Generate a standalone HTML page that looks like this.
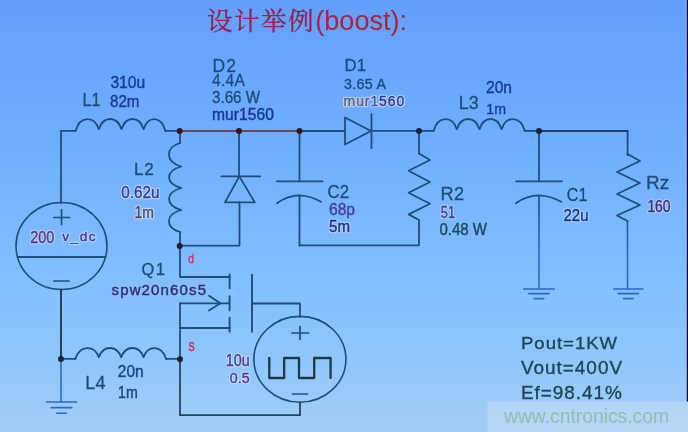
<!DOCTYPE html>
<html><head><meta charset="utf-8"><title>boost</title>
<style>
html,body{margin:0;padding:0;background:#64a0fc;}
body{width:688px;height:432px;overflow:hidden;font-family:"Liberation Sans",sans-serif;}
svg{display:block;}
</style></head><body>
<svg width="688" height="432" viewBox="0 0 688 432" font-family="'Liberation Sans', sans-serif">
<defs>
<linearGradient id="bg" x1="0" y1="0" x2="0" y2="1">
<stop offset="0" stop-color="rgb(99,159,253)"/>
<stop offset="0.14" stop-color="rgb(102,166,255)"/>
<stop offset="0.35" stop-color="rgb(112,175,255)"/>
<stop offset="0.56" stop-color="rgb(125,186,254)"/>
<stop offset="0.69" stop-color="rgb(133,193,255)"/>
<stop offset="0.83" stop-color="rgb(143,198,252)"/>
<stop offset="0.95" stop-color="rgb(158,203,247)"/>
<stop offset="1" stop-color="rgb(160,204,247)"/>
</linearGradient>
<linearGradient id="gv" gradientUnits="userSpaceOnUse" x1="0" y1="205" x2="0" y2="255">
<stop offset="0" stop-color="#1c4f7a"/>
<stop offset="1" stop-color="#2c68c6"/>
</linearGradient>
<filter id="soft" x="0" y="0" width="688" height="432" filterUnits="userSpaceOnUse"><feGaussianBlur stdDeviation="0.45"/></filter>
</defs>
<rect width="688" height="432" fill="url(#bg)"/>
<g filter="url(#soft)">
<path d="M61 203V130.8H75.6" stroke="#1c4f7a" stroke-width="1.8" fill="none" stroke-linecap="round" stroke-linejoin="round" />
<path d="M75.6 130.8 C80.1 115.6 94.3 115.6 98.8 129.2 C103.3 115.6 117.0 115.6 121.5 129.2 C126.0 115.6 139.1 115.6 143.6 129.2 C148.1 115.6 160.9 115.6 165.4 130.8" stroke="#1c4f7a" stroke-width="1.8" fill="none" stroke-linecap="round" stroke-linejoin="round" />
<path d="M165.4 130.8H180" stroke="#1c4f7a" stroke-width="1.8" fill="none" stroke-linecap="round" stroke-linejoin="round" />
<path d="M180 131H299.5" stroke="#662832" stroke-width="1.6" fill="none" stroke-linecap="round" stroke-linejoin="round" />
<path d="M299.5 131H345" stroke="#1c4f7a" stroke-width="1.8" fill="none" stroke-linecap="round" stroke-linejoin="round" />
<path d="M345 117.5V144.5L371 131Z" stroke="#1c4f7a" stroke-width="1.8" fill="none" stroke-linecap="round" stroke-linejoin="round" />
<path d="M371.5 114V148" stroke="#1c4f7a" stroke-width="1.8" fill="none" stroke-linecap="round" stroke-linejoin="round" />
<path d="M371.5 130.8H433.6" stroke="#1c4f7a" stroke-width="1.8" fill="none" stroke-linecap="round" stroke-linejoin="round" />
<path d="M433.6 130.8 C438.1 115.6 452.3 115.6 456.8 129.2 C461.3 115.6 475.0 115.6 479.5 129.2 C484.0 115.6 497.1 115.6 501.6 129.2 C506.1 115.6 520.3 115.6 524.8 130.8" stroke="#1c4f7a" stroke-width="1.8" fill="none" stroke-linecap="round" stroke-linejoin="round" />
<path d="M524.8 130.8H539" stroke="#1c4f7a" stroke-width="1.8" fill="none" stroke-linecap="round" stroke-linejoin="round" />
<path d="M539 131H627.6" stroke="#2c3a5e" stroke-width="1.9" fill="none" stroke-linecap="round" stroke-linejoin="round" />
<path d="M627.6 131V155" stroke="#1c4f7a" stroke-width="1.8" fill="none" stroke-linecap="round" stroke-linejoin="round" />
<path d="M627.5 154L640 161L617 172L640 183L617 194L640 205L617 215.5L627.5 221" stroke="#1c4f7a" stroke-width="1.8" fill="none" stroke-linecap="round" stroke-linejoin="round" />
<path d="M627.5 221V289" stroke="url(#gv)" stroke-width="1.6" fill="none"/>
<path d="M613.6999999999999 289H642.9M618.0999999999999 293.6H638.5M623.5 298.6H633.0999999999999" stroke="#2c68c6" stroke-width="1.6" fill="none" stroke-linecap="round" stroke-linejoin="round" />
<path d="M539 131V181" stroke="#1c4f7a" stroke-width="1.8" fill="none" stroke-linecap="round" stroke-linejoin="round" />
<path d="M516 181.3H562" stroke="#1c4f7a" stroke-width="1.8" fill="none" stroke-linecap="round" stroke-linejoin="round" />
<path d="M516 203.2Q527 195.4 539 195.4Q551 196 561.2 201.8" stroke="#1c4f7a" stroke-width="1.8" fill="none" stroke-linecap="round" stroke-linejoin="round" />
<path d="M539 195.5V289" stroke="url(#gv)" stroke-width="1.6" fill="none"/>
<path d="M523.7 289H554.3M528.8 293.6H549.2M534.2 298.6H543.8" stroke="#2c68c6" stroke-width="1.6" fill="none" stroke-linecap="round" stroke-linejoin="round" />
<path d="M419 131V153.5L430 160L408.6 170.8L430 182L408.6 192.8L430 203.8L408.6 214.4L419 220V245.4H299.5" stroke="#1c4f7a" stroke-width="1.8" fill="none" stroke-linecap="round" stroke-linejoin="round" />
<path d="M299.5 131V181" stroke="#1c4f7a" stroke-width="1.8" fill="none" stroke-linecap="round" stroke-linejoin="round" />
<path d="M277 181.3H322.5" stroke="#1c4f7a" stroke-width="1.8" fill="none" stroke-linecap="round" stroke-linejoin="round" />
<path d="M277 203.2Q288 195.4 299.5 195.4Q311 196 321 201.8" stroke="#1c4f7a" stroke-width="1.8" fill="none" stroke-linecap="round" stroke-linejoin="round" />
<path d="M299.5 195.5V245.5" stroke="#1c4f7a" stroke-width="1.8" fill="none" stroke-linecap="round" stroke-linejoin="round" />
<path d="M239 131V176.4" stroke="#1c4f7a" stroke-width="1.8" fill="none" stroke-linecap="round" stroke-linejoin="round" />
<path d="M221.4 176.4H260.2" stroke="#1c4f7a" stroke-width="1.8" fill="none" stroke-linecap="round" stroke-linejoin="round" />
<path d="M239.3 176.4L225 202.4H254.8Z" stroke="#1c4f7a" stroke-width="1.8" fill="none" stroke-linecap="round" stroke-linejoin="round" />
<path d="M239.5 202.4V245.6H180" stroke="#1c4f7a" stroke-width="1.8" fill="none" stroke-linecap="round" stroke-linejoin="round" />
<path d="M180 131V143" stroke="#1c4f7a" stroke-width="1.8" fill="none" stroke-linecap="round" stroke-linejoin="round" />
<path d="M180.0 143.0 C165.0 147.5 165.0 162.0 181.3 166.5 C165.0 171.0 165.0 183.5 181.3 188.0 C165.0 192.5 165.0 205.5 181.3 210.0 C165.0 214.5 165.0 227.5 180.0 232.0" stroke="#1c4f7a" stroke-width="1.8" fill="none" stroke-linecap="round" stroke-linejoin="round" />
<path d="M180 232V246" stroke="#1c4f7a" stroke-width="1.8" fill="none" stroke-linecap="round" stroke-linejoin="round" />
<path d="M180 246V277H229.6" stroke="#1c4f7a" stroke-width="1.8" fill="none" stroke-linecap="round" stroke-linejoin="round" />
<path d="M229.6 274.5V288.2M229.6 296.2V310.4M229.6 317.8V331.8" stroke="#1c4f7a" stroke-width="1.9" fill="none" stroke-linecap="round" stroke-linejoin="round" />
<path d="M252 274.6V331.8" stroke="#1c4f7a" stroke-width="1.9" fill="none" stroke-linecap="round" stroke-linejoin="round" />
<path d="M252 303.5H300V317" stroke="#1c4f7a" stroke-width="1.8" fill="none" stroke-linecap="round" stroke-linejoin="round" />
<path d="M180 303.3H229.6" stroke="#1c4f7a" stroke-width="1.8" fill="none" stroke-linecap="round" stroke-linejoin="round" />
<path d="M209 295.8L220.3 303.3L209 310.6" stroke="#1c4f7a" stroke-width="1.8" fill="none" stroke-linecap="round" stroke-linejoin="round" />
<path d="M180 328H229.6" stroke="#1c4f7a" stroke-width="1.8" fill="none" stroke-linecap="round" stroke-linejoin="round" />
<path d="M180 303.5V359.5" stroke="#1c4f7a" stroke-width="1.8" fill="none" stroke-linecap="round" stroke-linejoin="round" />
<path d="M180 359.5V415.2H300V402.5" stroke="#22465a" stroke-width="1.8" fill="none" stroke-linecap="round" stroke-linejoin="round" />
<ellipse cx="299.9" cy="359.3" rx="46" ry="42.9" fill="none" stroke="#1c4f7a" stroke-width="1.6"/>
<path d="M292 333H308.5M300 326.5V339.5" stroke="#1c4f7a" stroke-width="1.7" fill="none" stroke-linecap="round" stroke-linejoin="round" />
<path d="M292.5 394H307.5" stroke="#1c4f7a" stroke-width="1.7" fill="none" stroke-linecap="round" stroke-linejoin="round" />
<path d="M269.3 358V378H284.2V358H299V378H314.2V358H330.6V378" stroke="#1c3a48" stroke-width="2.3" fill="none" stroke-linecap="round" stroke-linejoin="round" />
<path d="M61 358.8H75.4" stroke="#1c4f7a" stroke-width="1.8" fill="none" stroke-linecap="round" stroke-linejoin="round" />
<path d="M75.4 358.8 C79.9 344.9 94.3 344.9 98.8 357.2 C103.3 344.9 116.7 344.9 121.2 357.2 C125.7 344.9 139.1 344.9 143.6 357.2 C148.1 344.9 161.5 344.9 166.0 358.8" stroke="#1c4f7a" stroke-width="1.8" fill="none" stroke-linecap="round" stroke-linejoin="round" />
<path d="M166 358.8H180" stroke="#1c4f7a" stroke-width="1.8" fill="none" stroke-linecap="round" stroke-linejoin="round" />
<ellipse cx="61.5" cy="246" rx="45.5" ry="43.5" fill="none" stroke="#1c4f7a" stroke-width="1.6"/>
<path d="M17.5 257H105.5" stroke="#1c4f7a" stroke-width="1.8" fill="none" stroke-linecap="round" stroke-linejoin="round" />
<path d="M54 217.5H69.5M61.5 209.5V224.5" stroke="#1c4f7a" stroke-width="1.7" fill="none" stroke-linecap="round" stroke-linejoin="round" />
<path d="M54 281H69" stroke="#1c4f7a" stroke-width="1.7" fill="none" stroke-linecap="round" stroke-linejoin="round" />
<path d="M61 289.5V359" stroke="#243a4a" stroke-width="1.9" fill="none" stroke-linecap="round" stroke-linejoin="round" />
<path d="M61 359V402" stroke="#2c68c6" stroke-width="1.6" fill="none" stroke-linecap="round" stroke-linejoin="round" />
<path d="M46.5 402H76.7M51.400000000000006 407.6H71.8M56.800000000000004 413.3H66.4" stroke="#2c68c6" stroke-width="1.6" fill="none" stroke-linecap="round" stroke-linejoin="round" />
<circle cx="179.7" cy="131" r="3.0" fill="#3a1418"/>
<circle cx="239" cy="131" r="3.0" fill="#3a1418"/>
<circle cx="299.5" cy="131" r="3.0" fill="#3a1418"/>
<circle cx="419" cy="131" r="3.0" fill="#1c2438"/>
<circle cx="539" cy="131" r="3.0" fill="#1c2438"/>
<circle cx="179.7" cy="246" r="3.0" fill="#1c2438"/>
<circle cx="180" cy="359.3" r="3.0" fill="#1c2438"/>
<circle cx="61" cy="359" r="3.0" fill="#1c2438"/>
<text x="110.4" y="88" font-size="17.04" textLength="34.9" lengthAdjust="spacingAndGlyphs" fill="#1c3a9c" stroke="#1c3a9c" stroke-width="0.4">310u</text>
<text x="82.6" y="106" font-size="18.16" textLength="18.0" lengthAdjust="spacingAndGlyphs" fill="#1b4e76" stroke="#1b4e76" stroke-width="0.3">L1</text>
<text x="110" y="107" font-size="16.76" textLength="29.5" lengthAdjust="spacingAndGlyphs" fill="#1c3a9c" stroke="#1c3a9c" stroke-width="0.4">82m</text>
<text x="212.5" y="71.5" font-size="17.46" textLength="23.5" lengthAdjust="spacing" fill="#1b4e76" stroke="#1b4e76" stroke-width="0.3">D2</text>
<text x="212" y="86" font-size="15.64" textLength="33.0" lengthAdjust="spacing" fill="#1b4e76" stroke="#1b4e76" stroke-width="0.3">4.4A</text>
<text x="212" y="103" font-size="15.64" textLength="48.0" lengthAdjust="spacingAndGlyphs" fill="#1b4e76" stroke="#1b4e76" stroke-width="0.3">3.66 W</text>
<text x="212" y="120" font-size="15.64" textLength="62.0" lengthAdjust="spacing" fill="#1c3494" stroke="#1c3494" stroke-width="0.4">mur1560</text>
<text x="344.6" y="71.1" font-size="17.18" textLength="21.4" lengthAdjust="spacingAndGlyphs" fill="#1b4e76" stroke="#1b4e76" stroke-width="0.3">D1</text>
<text x="344" y="88.6" font-size="14.25" textLength="42.0" lengthAdjust="spacing" fill="#1d5080" stroke="#1d5080" stroke-width="0.4">3.65 A</text>
<text x="343.6" y="105.8" font-size="13.97" textLength="60.7" lengthAdjust="spacing" fill="none" stroke="#ffffff" stroke-opacity="0.5" stroke-width="2.6" stroke-linejoin="round">mur1560</text>
<text x="343.6" y="105.8" font-size="13.97" textLength="60.7" lengthAdjust="spacing" fill="#38368a" stroke="#38368a" stroke-width="0.4"><tspan fill="#6e5c74" stroke="#6e5c74">mur</tspan><tspan fill="#5a5488" stroke="#5a5488">1</tspan>560</text>
<text x="458.7" y="109" font-size="18.16" textLength="19.9" lengthAdjust="spacingAndGlyphs" fill="#1b4e76" stroke="#1b4e76" stroke-width="0.3">L3</text>
<text x="486" y="93" font-size="15.64" textLength="26.0" lengthAdjust="spacingAndGlyphs" fill="#1c3a9c" stroke="#1c3a9c" stroke-width="0.4">20n</text>
<text x="486.3" y="113.5" font-size="15.50" textLength="19.7" lengthAdjust="spacingAndGlyphs" fill="#1c3a9c" stroke="#1c3a9c" stroke-width="0.4">1m</text>
<text x="134" y="174.5" font-size="17.04" textLength="19.8" lengthAdjust="spacing" fill="#1b4e76" stroke="#1b4e76" stroke-width="0.3">L2</text>
<text x="121.3" y="198.4" font-size="17.18" textLength="38.1" lengthAdjust="spacingAndGlyphs" fill="none" stroke="#ffffff" stroke-opacity="0.5" stroke-width="2.6" stroke-linejoin="round">0.62u</text>
<text x="121.3" y="198.4" font-size="17.18" textLength="38.1" lengthAdjust="spacingAndGlyphs" fill="#3e3c8c" stroke="#3e3c8c" stroke-width="0.4">0.62u</text>
<text x="134.5" y="218" font-size="15.64" textLength="19.5" lengthAdjust="spacingAndGlyphs" fill="none" stroke="#ffffff" stroke-opacity="0.55" stroke-width="2.6" stroke-linejoin="round">1m</text>
<text x="134.5" y="218" font-size="15.64" textLength="19.5" lengthAdjust="spacingAndGlyphs" fill="#56486a" stroke="#56486a" stroke-width="0.4">1m</text>
<text x="327.5" y="197.5" font-size="18.85" textLength="21.5" lengthAdjust="spacingAndGlyphs" fill="#1b4e76" stroke="#1b4e76" stroke-width="0.3">C2</text>
<text x="329" y="215" font-size="17.04" textLength="26.0" lengthAdjust="spacingAndGlyphs" fill="#4a3c9c" stroke="#4a3c9c" stroke-width="0.4">68p</text>
<text x="329" y="232" font-size="15.64" textLength="21.0" lengthAdjust="spacingAndGlyphs" fill="none" stroke="#ffffff" stroke-opacity="0.38" stroke-width="2.6" stroke-linejoin="round">5m</text>
<text x="329" y="232" font-size="15.64" textLength="21.0" lengthAdjust="spacingAndGlyphs" fill="#2c2c84" stroke="#2c2c84" stroke-width="0.4">5m</text>
<text x="440.5" y="200.3" font-size="18.16" textLength="23.5" lengthAdjust="spacing" fill="#1b4e76" stroke="#1b4e76" stroke-width="0.3">R2</text>
<text x="440.8" y="217.8" font-size="15.64" textLength="14.2" lengthAdjust="spacingAndGlyphs" fill="none" stroke="#ffffff" stroke-opacity="0.38" stroke-width="2.6" stroke-linejoin="round">51</text>
<text x="440.8" y="217.8" font-size="15.64" textLength="14.2" lengthAdjust="spacingAndGlyphs" fill="#44408c" stroke="#44408c" stroke-width="0.4">51</text>
<text x="439.5" y="234.5" font-size="16.34" textLength="47.5" lengthAdjust="spacingAndGlyphs" fill="#1c4a5c" stroke="#1c4a5c" stroke-width="0.4">0.48 W</text>
<text x="566.8" y="200.6" font-size="18.16" textLength="20.7" lengthAdjust="spacingAndGlyphs" fill="#1b4e76" stroke="#1b4e76" stroke-width="0.3">C1</text>
<text x="563.5" y="220.5" font-size="16.34" textLength="25.0" lengthAdjust="spacingAndGlyphs" fill="none" stroke="#ffffff" stroke-opacity="0.38" stroke-width="2.6" stroke-linejoin="round">22u</text>
<text x="563.5" y="220.5" font-size="16.34" textLength="25.0" lengthAdjust="spacingAndGlyphs" fill="#1c3090" stroke="#1c3090" stroke-width="0.4">22u</text>
<text x="646" y="189.2" font-size="18.99" textLength="23.3" lengthAdjust="spacing" fill="#1b4e76" stroke="#1b4e76" stroke-width="0.3">Rz</text>
<text x="647.4" y="212" font-size="15.64" textLength="23.2" lengthAdjust="spacingAndGlyphs" fill="none" stroke="#ffffff" stroke-opacity="0.38" stroke-width="2.6" stroke-linejoin="round">160</text>
<text x="647.4" y="212" font-size="15.64" textLength="23.2" lengthAdjust="spacingAndGlyphs" fill="#4c2e70" stroke="#4c2e70" stroke-width="0.4">160</text>
<text x="30.3" y="243" font-size="16.34" textLength="24.0" lengthAdjust="spacingAndGlyphs" fill="none" stroke="#ffffff" stroke-opacity="0.38" stroke-width="2.6" stroke-linejoin="round">200</text>
<text x="30.3" y="243" font-size="16.34" textLength="24.0" lengthAdjust="spacingAndGlyphs" fill="#5e3a80" stroke="#5e3a80" stroke-width="0.4">200</text>
<text x="62.3" y="240.8" font-size="13.69" textLength="33.3" lengthAdjust="spacing" fill="none" stroke="#ffffff" stroke-opacity="0.38" stroke-width="2.6" stroke-linejoin="round">v_dc</text>
<text x="62.3" y="240.8" font-size="13.69" textLength="33.3" lengthAdjust="spacing" fill="#4c3a88" stroke="#4c3a88" stroke-width="0.4">v_dc</text>
<text x="141.6" y="275" font-size="16.48" textLength="23.4" lengthAdjust="spacing" fill="#1b4e76" stroke="#1b4e76" stroke-width="0.3">Q1</text>
<text x="111.5" y="294.5" font-size="14.94" textLength="94.5" lengthAdjust="spacing" fill="#3a2a70" stroke="#3a2a70" stroke-width="0.4">spw20n60s5</text>
<text x="188.2" y="263.1" font-size="12.15" textLength="5.8" lengthAdjust="spacingAndGlyphs" fill="#d4305c" stroke="#d4305c" stroke-width="0.4">d</text>
<text x="188.5" y="350.5" font-size="15.61" textLength="6.2" lengthAdjust="spacingAndGlyphs" fill="#d4305c" stroke="#d4305c" stroke-width="0.4">s</text>
<text x="225.8" y="365.5" font-size="15.92" textLength="24.0" lengthAdjust="spacingAndGlyphs" fill="none" stroke="#ffffff" stroke-opacity="0.38" stroke-width="2.6" stroke-linejoin="round">10u</text>
<text x="225.8" y="365.5" font-size="15.92" textLength="24.0" lengthAdjust="spacingAndGlyphs" fill="#583a8c" stroke="#583a8c" stroke-width="0.4">10u</text>
<text x="229.8" y="382.8" font-size="15.36" textLength="19.8" lengthAdjust="spacingAndGlyphs" fill="none" stroke="#ffffff" stroke-opacity="0.38" stroke-width="2.6" stroke-linejoin="round">0.5</text>
<text x="229.8" y="382.8" font-size="15.36" textLength="19.8" lengthAdjust="spacingAndGlyphs" fill="#583a8c" stroke="#583a8c" stroke-width="0.4">0.5</text>
<text x="85.3" y="388.5" font-size="18.02" textLength="20.3" lengthAdjust="spacing" fill="#1b4e76" stroke="#1b4e76" stroke-width="0.3">L4</text>
<text x="117.8" y="377.2" font-size="15.92" textLength="25.8" lengthAdjust="spacingAndGlyphs" fill="#1c4684" stroke="#1c4684" stroke-width="0.4">20n</text>
<text x="118" y="397.6" font-size="15.78" textLength="19.7" lengthAdjust="spacingAndGlyphs" fill="#1c4684" stroke="#1c4684" stroke-width="0.4">1m</text>
<text x="521" y="349" font-size="16.62" textLength="97.0" lengthAdjust="spacingAndGlyphs" fill="#1b4652" stroke="#1b4652" stroke-width="0.32" letter-spacing="0.9">Pout=1KW</text>
<text x="521" y="374" font-size="17.60" textLength="102.0" lengthAdjust="spacingAndGlyphs" fill="#1b4652" stroke="#1b4652" stroke-width="0.32" letter-spacing="0.9">Vout=400V</text>
<text x="521" y="398.6" font-size="17.88" textLength="101.7" lengthAdjust="spacingAndGlyphs" fill="#1b4652" stroke="#1b4652" stroke-width="0.32" letter-spacing="0.9">Ef=98.41%</text>
<text x="207" y="30.2" font-size="25.5" textLength="106.5" lengthAdjust="spacing" font-family="'Liberation Serif', 'Noto Serif CJK SC', serif" fill="#9c1c4a" stroke="#9c1c4a" stroke-width="0.3">设计举例</text>
<text x="315.3" y="29.6" font-size="27" textLength="91.7" lengthAdjust="spacingAndGlyphs" fill="#b0203c">(boost):</text>
<rect x="487.5" y="401.5" width="201" height="31" fill="#c4dcf6" fill-opacity="0.55"/>
<text x="504" y="422.8" font-size="20" textLength="165" lengthAdjust="spacingAndGlyphs" fill="#8abfa8" fill-opacity="0.92">www.cntronics.com</text>
<rect x="686.6" y="0" width="1.6" height="401.5" fill="#060a3c"/>
<rect x="685.4" y="0" width="1.2" height="401.5" fill="#a8c4f4" fill-opacity="0.6"/>
</g>
</svg>
</body></html>
